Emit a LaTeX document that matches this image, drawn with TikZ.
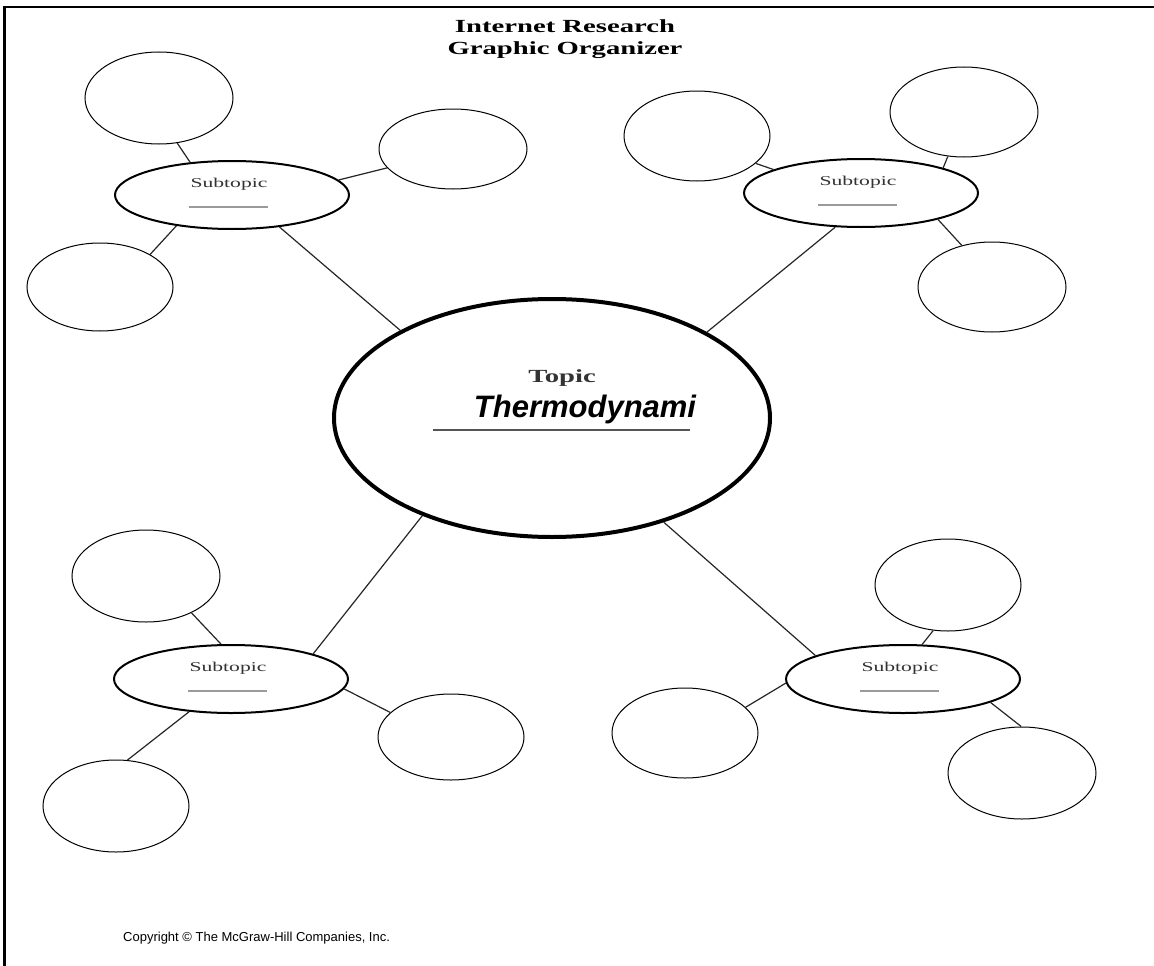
\documentclass[tikz,border=0pt]{standalone}
\usepackage{fontspec}
\usetikzlibrary{shapes.geometric}
\newfontfamily\orgserif[FakeStretch=1.55]{Liberation Serif}
\newfontfamily\subserif[FakeStretch=1.6]{Liberation Serif}
\newfontfamily\orgsans{Liberation Sans}
\definecolor{inkgray}{HTML}{333333}
\definecolor{rulegray}{HTML}{9A9A9A}
\definecolor{topicrule}{HTML}{555555}
\tikzset{
  topicbox/.style={ellipse, draw, line width=4pt, minimum width=436pt, minimum height=238pt, inner sep=0pt},
  subbox/.style={ellipse, draw, line width=2pt, minimum width=234pt, minimum height=68pt, inner sep=0pt},
  leaf/.style={ellipse, draw, line width=1pt, inner sep=0pt},
  link/.style={line width=1.2pt, draw=black!85},
  subtext/.style={anchor=base, inner sep=0pt, text=inkgray, font=\subserif\fontsize{13.5}{16}\selectfont},
  subline/.style={line width=1.3pt, draw=rulegray},
  titletext/.style={anchor=base, inner sep=0pt, font=\orgserif\bfseries\fontsize{18.5}{22}\selectfont},
  frameline/.style={line width=2.4pt}
}
% leaf circle: name, x, y, width, height
\newcommand\leafnode[5]{\node[leaf, minimum width=#4pt, minimum height=#5pt] (#1) at (#2,#3) {};}
% subtopic ellipse with its caption and blank rule
\newcommand\subnode[3]{%
  \node[subbox] (#1) at (#2,#3) {};
  \node[subtext] (#1-cap) at ([xshift=-3pt,yshift=8pt]#1.center) {Subtopic};
  \draw[subline] ([xshift=-43pt,yshift=-12pt]#1.center) -- ([xshift=36pt,yshift=-12pt]#1.center);}
\begin{document}
\begin{tikzpicture}[x=1pt,y=-1pt]
\useasboundingbox (0,0) rectangle (1154,966);
\fill[white] (0,0) rectangle (1154,966);

% page frame (top and left edges)
\coordinate (fr-tl) at (4.5,7);
\coordinate (fr-tr) at (1154,7);
\coordinate (fr-bl) at (4.5,966);
\draw[frameline] (fr-tr) -- (fr-tl) -- (fr-bl);

% title
\node[titletext] (title1) at (565,33) {Internet Research};
\node[titletext] (title2) at (565,55) {Graphic Organizer};

% central topic
\node[topicbox] (topic) at (552,418) {};
\node[titletext, text=inkgray] (topiccap) at (562,382) {Topic};
\node[anchor=base, inner sep=0pt, font=\orgsans\bfseries\itshape\fontsize{31}{36}\selectfont] (topicname) at (585,417) {Thermodynami};
\draw[line width=1.5pt, draw=topicrule] ([xshift=-119pt,yshift=-12pt]topic.center) -- ([xshift=138pt,yshift=-12pt]topic.center);

% subtopics
\subnode{stl}{232}{195}
\subnode{str}{861}{193}
\subnode{sbl}{231}{679}
\subnode{sbr}{903}{679}

% leaf circles
\leafnode{tl1}{159}{98}{148}{92}
\leafnode{tl2}{453}{149}{148}{80}
\leafnode{tl3}{100}{287}{146}{88}
\leafnode{tr1}{697}{136}{146}{90}
\leafnode{tr2}{964}{112}{148}{90}
\leafnode{tr3}{992}{287}{148}{90}
\leafnode{bl1}{146}{576}{148}{92}
\leafnode{bl2}{451}{737}{146}{86}
\leafnode{bl3}{116}{806}{146}{92}
\leafnode{br1}{948}{585}{146}{92}
\leafnode{br2}{685}{733}{146}{90}
\leafnode{br3}{1022}{773}{148}{92}

% topic to subtopics
\draw[link] (stl.-34) -- (topic.150);
\draw[link] (str.233) -- (topic.29);
\draw[link] (sbl.17) -- (topic.217);
\draw[link] (sbr.165) -- (topic.-43);

% subtopics to leaves
\draw[link] (tl1.-68) -- (stl.142);
\draw[link] (tl2.196) -- (stl.8);
\draw[link] (stl.209) -- (tl3.33);
\draw[link] (tr1.-25) -- (str.165);
\draw[link] (tr2.-110) -- (str.17);
\draw[link] (str.-19) -- (tr3.126);
\draw[link] (bl1.-39) -- (sbl.106);
\draw[link] (sbl.-5) -- (bl2.158);
\draw[link] (sbl.218) -- (bl3.76);
\draw[link] (br1.-108) -- (sbr.61);
\draw[link] (sbr.182) -- (br2.23);
\draw[link] (sbr.-15) -- (br3.91);

% footer
\node[anchor=base west, inner sep=0pt, font=\orgsans\fontsize{13}{15}\selectfont] (copyright) at (123,941) {Copyright \textcopyright\ The McGraw-Hill Companies, Inc.};
\end{tikzpicture}
\end{document}
